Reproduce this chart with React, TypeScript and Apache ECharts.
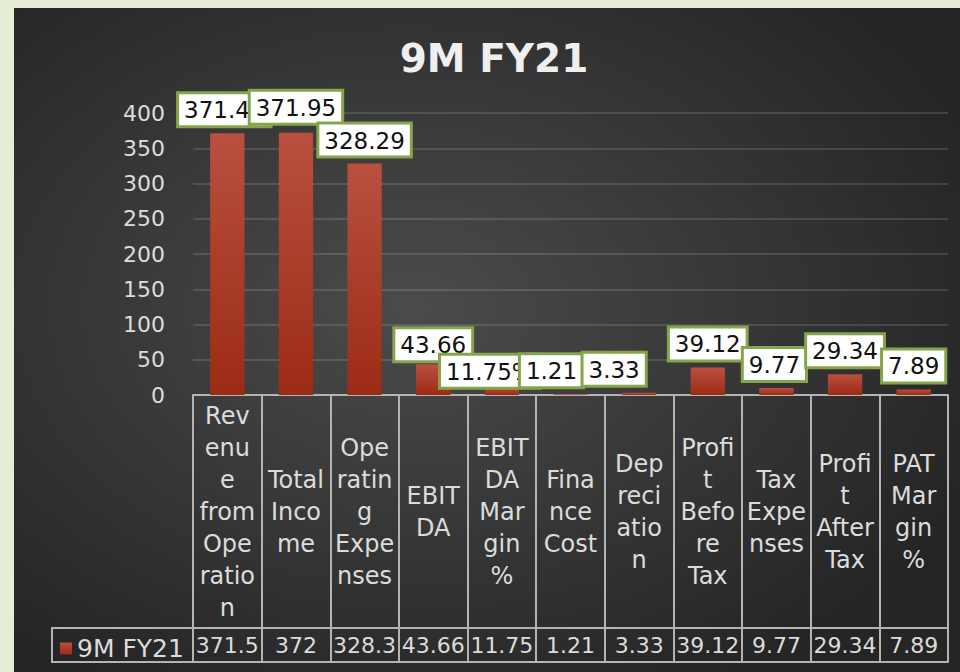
import React, { useEffect, useRef } from "react";
import * as echarts from "echarts";

const title = "9M FY21";
const seriesName = "9M FY21";
const categories = [
  "Revenue from Operation",
  "Total Income",
  "Operating Expenses",
  "EBITDA",
  "EBITDA Margin %",
  "Finance Cost",
  "Depreciation",
  "Profit Before Tax",
  "Tax Expenses",
  "Profit After Tax",
  "PAT Margin %",
];
// category names as they wrap in the table cells
const wrappedCategories = [
  "Rev\nenu\ne\nfrom\nOpe\nratio\nn",
  "Total\nInco\nme",
  "Ope\nratin\ng\nExpe\nnses",
  "EBIT\nDA",
  "EBIT\nDA\nMar\ngin\n%",
  "Fina\nnce\nCost",
  "Dep\nreci\natio\nn",
  "Profi\nt\nBefo\nre\nTax",
  "Tax\nExpe\nnses",
  "Profi\nt\nAfter\nTax",
  "PAT\nMar\ngin\n%",
];
const values = [371.45, 371.95, 328.29, 43.66, 11.75, 1.21, 3.33, 39.12, 9.77, 29.34, 7.89];
const labelTexts = ["371.45", "371.95", "328.29", "43.66", "11.75%", "1.21", "3.33", "39.12", "9.77", "29.34", "7.89"];
const tableValues = ["371.5", "372", "328.3", "43.66", "11.75", "1.21", "3.33", "39.12", "9.77", "29.34", "7.89"];
const yTicks = { min: 0, max: 400, interval: 50 };

export default function App() {
  const ref = useRef<HTMLDivElement>(null);
  useEffect(() => {
    if (!ref.current) return;
    const chart = echarts.init(ref.current, null, { renderer: "svg" });

    // layout (styles, not data)
    const gridLeft = 193;
    const gridRight = 12;
    const gridTop = 113;
    const axisY = 395;
    const row1 = 233;
    const row2 = 34;
    const labelShift = [[-3, 0], [0, -2], [0, 0], [0, 4], [-12, 8], [-19, 0], [-25, 0], [0, 0], [-2, 0], [0, 0], [0, 0]];
    const lineColor = "#b4b4b4";
    const textColor = "#dcdcdc";
    const font = "DejaVu Sans";

    const option: any = {
      animation: false,
      backgroundColor: "#e6eed5",
      title: {
        text: title,
        left: 489,
        top: 34,
        textAlign: "center",
        textStyle: { color: "#efefef", fontSize: 39, fontWeight: "bold", fontFamily: font },
      },
      legend: {
        data: [seriesName],
        left: 55,
        top: axisY + row1 + 3,
        icon: "rect",
        itemWidth: 12,
        itemHeight: 12,
        itemGap: 0,
        textStyle: { color: textColor, fontSize: 25, fontFamily: font },
      },
      graphic: {
        elements: [
          {
            type: "rect",
            z: -10,
            silent: true,
            shape: { x: 14, y: 8, width: 960 - 14, height: 672 - 8 },
            style: {
              fill: new echarts.graphic.RadialGradient(0.42, 0.45, 0.65, [
                { offset: 0, color: "#4b4b4b" },
                { offset: 1, color: "#252525" },
              ]),
            },
          },
          {
            type: "polyline",
            silent: true,
            shape: {
              points: [
                [gridLeft, axisY + row1],
                [52, axisY + row1],
                [52, axisY + row1 + row2],
                [gridLeft, axisY + row1 + row2],
              ],
            },
            style: { stroke: lineColor, lineWidth: 2, fill: null },
          },
        ],
      },
      grid: { left: gridLeft, right: gridRight, top: gridTop, bottom: 672 - axisY, containLabel: false },
      xAxis: [
        {
          type: "category",
          data: categories,
          position: "bottom",
          axisLine: { show: true, lineStyle: { color: lineColor, width: 2 } },
          axisTick: { show: true, length: row1 + row2, interval: 0, lineStyle: { color: lineColor, width: 2 } },
          axisLabel: {
            interval: 0,
            margin: row1 / 2,
            verticalAlign: "middle",
            align: "center",
            color: textColor,
            fontSize: 24,
            lineHeight: 32,
            fontFamily: font,
            formatter: (_v: string, i: number) => wrappedCategories[i],
          },
          splitLine: { show: false },
        },
        {
          type: "category",
          data: categories,
          position: "bottom",
          offset: row1,
          axisLine: { show: true, lineStyle: { color: lineColor, width: 2 } },
          axisTick: { show: false },
          axisLabel: {
            interval: 0,
            margin: row2 / 2,
            verticalAlign: "middle",
            color: textColor,
            fontSize: 22,
            fontFamily: font,
            formatter: (_v: string, i: number) => tableValues[i],
          },
        },
        {
          type: "category",
          data: categories,
          position: "bottom",
          offset: row1 + row2,
          axisLine: { show: true, lineStyle: { color: lineColor, width: 2 } },
          axisTick: { show: false },
          axisLabel: { show: false },
        },
      ],
      yAxis: {
        type: "value",
        min: yTicks.min,
        max: yTicks.max,
        interval: yTicks.interval,
        axisLine: { show: false },
        axisTick: { show: false },
        axisLabel: { color: textColor, fontSize: 22, fontFamily: font, margin: 28 },
        splitLine: { show: true, lineStyle: { color: "rgba(255,255,255,0.13)", width: 2 } },
      },
      series: [
        {
          name: seriesName,
          type: "bar",
          barWidth: "50%",
          itemStyle: {
            color: new echarts.graphic.LinearGradient(0, 0, 0, 1, [
              { offset: 0, color: "#b9503f" },
              { offset: 1, color: "#9c2b14" },
            ]),
          },
          label: {
            show: true,
            position: "top",
            distance: 8,
            color: "#111",
            fontSize: 23,
            fontFamily: font,
            lineHeight: 26,
            backgroundColor: "#ffffff",
            borderColor: "#86a44a",
            borderWidth: 3,
            padding: [3, 5, 2, 5],
            formatter: (p: any) => labelTexts[p.dataIndex],
          },
          data: values.map((v, i) => ({ value: v, label: { offset: labelShift[i] } })),
        },
      ],
    };
    chart.setOption(option);
    return () => chart.dispose();
  }, []);
  return <div ref={ref} style={{ position: "fixed", left: 0, top: 0, width: 960, height: 672 }} />;
}
